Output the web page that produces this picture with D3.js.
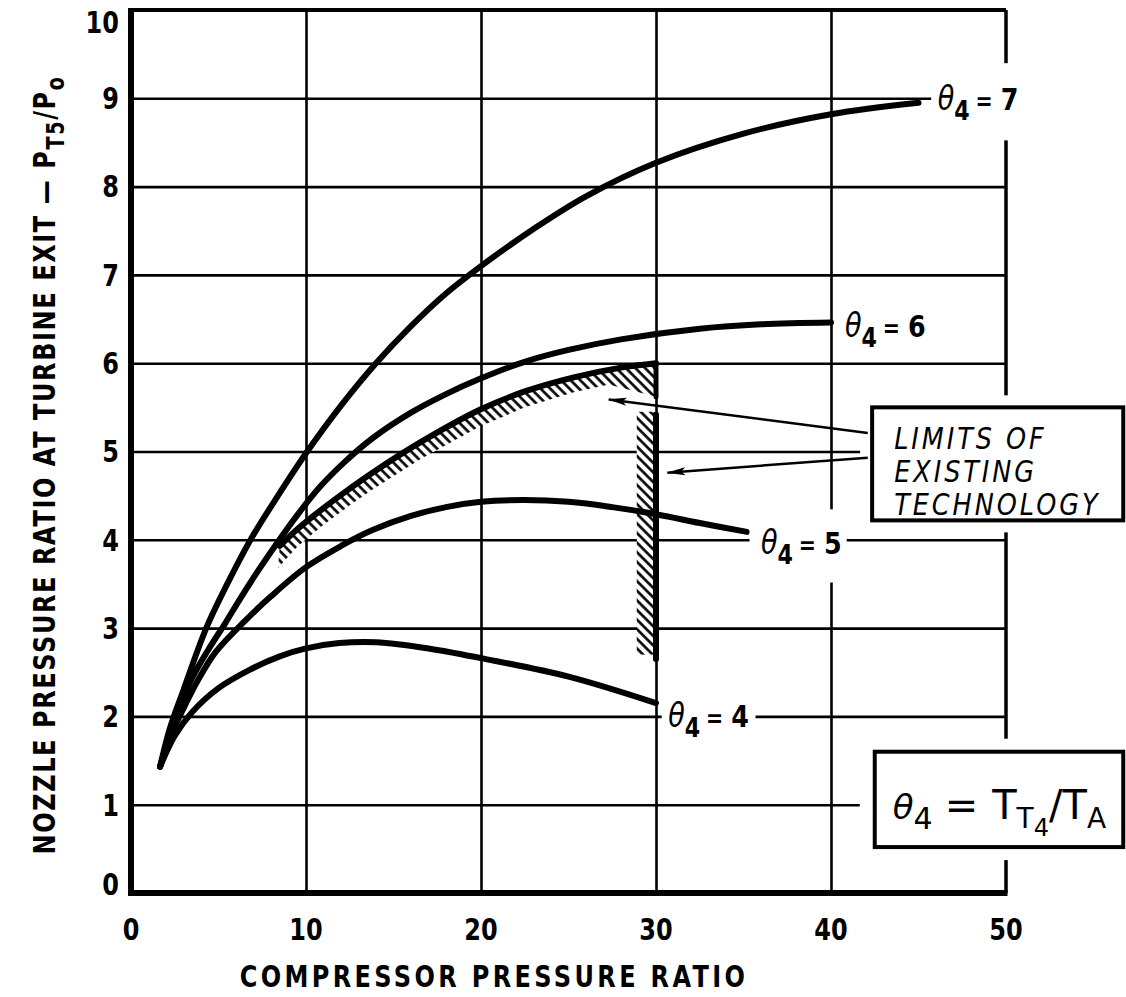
<!DOCTYPE html>
<html>
<head>
<meta charset="utf-8">
<script src="https://cdn.jsdelivr.net/npm/d3@7"></script>
<style>
body { margin: 0; background: #fff; }
text { font-family: "DejaVu Sans", sans-serif; fill: #000; }
</style>
</head>
<body>
<div id="chart-area"></div>
<script>
/*
*    Nozzle pressure ratio vs compressor pressure ratio
*/

// ---- data ----
let xTicks = [0, 10, 20, 30, 40, 50];
let yTicks = [0, 1, 2, 3, 4, 5, 6, 7, 8, 9, 10];

let theta7 = [[1.66,1.43],[2.2,1.85],[3.0,2.3],[4.3,3.0],[5.5,3.5],[6.8,3.99],[8.4,4.5],[10,4.98],
    [12,5.52],[14,6.0],[16,6.42],[18,6.79],[20,7.1],[23,7.52],[26,7.89],[30,8.27],[35,8.6],[40,8.82],[45,8.95]];
let theta6 = [[1.66,1.43],[2.4,1.9],[3.4,2.4],[4.4,2.75],[5.4,3.06],[6.2,3.32],[7.2,3.63],[8.3,3.95],
    [9.5,4.28],[10.8,4.6],[12.2,4.88],[13.8,5.15],[16,5.44],[18,5.65],[19.9,5.82],[22.4,6.01],[25,6.15],
    [28,6.27],[32.5,6.39],[36,6.44],[40,6.46]];
let theta5 = [[1.66,1.43],[2.2,1.75],[2.9,2.05],[3.8,2.4],[4.8,2.72],[6.5,3.08],[8,3.36],[10,3.69],
    [12,3.93],[13.8,4.11],[16,4.27],[18,4.37],[20,4.43],[22.4,4.45],[25,4.43],[27.5,4.37],[30,4.29],
    [32.5,4.19],[35.2,4.09]];
let theta4 = [[1.66,1.43],[2.5,1.78],[3.5,2.05],[5,2.32],[6.8,2.53],[8.5,2.68],[10,2.77],[11.9,2.83],
    [14,2.84],[17,2.77],[20,2.66],[25,2.45],[30,2.15]];

// limits of existing technology
let limitTop = [[8.5,3.93],[9.5,4.12],[11,4.36],[12.5,4.58],[13.8,4.76],[16.5,5.1],[19.9,5.47],
    [22.5,5.68],[25.3,5.84],[28,5.95],[30,6.0]];
let limitBottom = [[8.4,3.68],[9.5,3.92],[11,4.17],[12.5,4.39],[13.8,4.57],[16.5,4.91],[19.9,5.28],
    [22.5,5.5],[25.3,5.67],[27.3,5.76],[30,5.62]];
let wallX = 30;
let wallLow = [2.65, 5.42];
let wallHigh = [5.62, 6.0];
let wallHatchX = [28.9, 30];
let wallHatchY = [2.7, 5.45];

let curveNames = ["7", "6", "5", "4"];

let width = 875,
    height = 883;

let svg = d3.select("#chart-area")
    .append("svg")
    .attr("width", 1126)
    .attr("height", 997);

let defs = svg.append("defs");

let hatch = defs.append("pattern")
    .attr("id", "hatch")
    .attr("patternUnits", "userSpaceOnUse")
    .attr("width", 6.8)
    .attr("height", 6.8)
    .attr("patternTransform", "rotate(-45)");
hatch.append("rect").attr("width", 6.8).attr("height", 6.8).attr("fill", "#fff");
hatch.append("line")
    .attr("x1", 1.5).attr("y1", 0).attr("x2", 1.5).attr("y2", 6.8)
    .attr("stroke", "#000").attr("stroke-width", 2.6);

defs.append("marker")
    .attr("id", "arrow")
    .attr("markerUnits", "userSpaceOnUse")
    .attr("markerWidth", 20)
    .attr("markerHeight", 10)
    .attr("refX", 18)
    .attr("refY", 5)
    .attr("orient", "auto")
    .append("path")
    .attr("d", "M0,1 L19,5 L0,9 L4,5 Z")
    .attr("fill", "#000");

let g = svg.append("g")
    .attr("transform", "translate(131,10)");

// Scales
let x = d3.scaleLinear().domain([0, 50]).range([0, width]);
let y = d3.scaleLinear().domain([0, 10]).range([height, 0]);

// Grid
let xGrid = g.append("g")
    .attr("class", "x grid")
    .call(d3.axisBottom(x).tickValues(xTicks.slice(1, -1)).tickSize(height).tickFormat(""));
xGrid.select(".domain").remove();
xGrid.selectAll("line").attr("stroke", "#000").attr("stroke-width", 2.6);

let yGrid = g.append("g")
    .attr("class", "y grid")
    .call(d3.axisLeft(y).tickValues(yTicks.slice(1, -1)).tickSize(-width).tickFormat(""));
yGrid.select(".domain").remove();
yGrid.selectAll("line").attr("stroke", "#000").attr("stroke-width", 2.6);

// Frame
g.append("line").attr("x1", 0).attr("x2", width).attr("y1", 0).attr("y2", 0)
    .attr("stroke", "#000").attr("stroke-width", 4);
g.append("line").attr("x1", width).attr("x2", width).attr("y1", 0).attr("y2", height)
    .attr("stroke", "#000").attr("stroke-width", 3.5);
g.append("line").attr("x1", -3).attr("x2", width + 1.5).attr("y1", height).attr("y2", height)
    .attr("stroke", "#000").attr("stroke-width", 6);
g.append("line").attr("x1", 0).attr("x2", 0).attr("y1", -2).attr("y2", height + 3)
    .attr("stroke", "#000").attr("stroke-width", 6);

// Tick labels (condensed by a horizontal squeeze)
g.selectAll(".ylab")
    .data(yTicks)
    .enter()
    .append("g")
    .attr("class", "ylab")
    .attr("transform", function(d){
        return "translate(-12," + Math.min(Math.max(y(d), 12), height - 9) + ") scale(0.8,1)";
    })
    .append("text")
    .attr("dy", "0.36em")
    .attr("text-anchor", "end")
    .attr("font-size", "30px")
    .attr("font-weight", "bold")
    .text(function(d){ return d; });

g.selectAll(".xlab")
    .data(xTicks)
    .enter()
    .append("g")
    .attr("class", "xlab")
    .attr("transform", function(d){ return "translate(" + x(d) + "," + (height + 47) + ") scale(0.8,1)"; })
    .append("text")
    .attr("text-anchor", "middle")
    .attr("font-size", "30px")
    .attr("font-weight", "bold")
    .text(function(d){ return d; });

// X Label
svg.append("g")
    .attr("transform", "translate(494,987) scale(0.8,1)")
    .append("text")
    .attr("text-anchor", "middle")
    .attr("font-size", "30px")
    .attr("font-weight", "bold")
    .attr("letter-spacing", "4.2px")
    .text("COMPRESSOR PRESSURE RATIO");

// Y Label
let yTitle = svg.append("g")
    .attr("transform", "translate(55,465) rotate(-90) scale(0.8,1)")
    .append("text")
    .attr("text-anchor", "middle")
    .attr("font-size", "30px")
    .attr("font-weight", "bold")
    .attr("letter-spacing", "2px");
yTitle.append("tspan").text("NOZZLE PRESSURE RATIO AT TURBINE EXIT \u2014 P");
yTitle.append("tspan").attr("dy", 9).attr("font-size", "24px").text("T5");
yTitle.append("tspan").attr("dy", -9).text("/P");
yTitle.append("tspan").attr("dy", 9).attr("font-size", "24px").text("o");

// Hatched limit band
let line = d3.line()
    .x(function(d){ return x(d[0]); })
    .y(function(d){ return y(d[1]); })
    .curve(d3.curveCatmullRom.alpha(0.5));

let bandPts = limitTop.concat(limitBottom.slice().reverse());
g.append("path")
    .attr("d", d3.line().x(function(d){ return x(d[0]); }).y(function(d){ return y(d[1]); })
        .curve(d3.curveLinearClosed)(bandPts))
    .attr("fill", "url(#hatch)");

g.append("rect")
    .attr("x", x(wallHatchX[0]))
    .attr("y", y(wallHatchY[1]))
    .attr("width", x(wallHatchX[1]) - x(wallHatchX[0]))
    .attr("height", y(wallHatchY[0]) - y(wallHatchY[1]))
    .attr("fill", "url(#hatch)");

// Curves
let curves = [theta7, theta6, theta5, theta4];
g.selectAll(".theta-line")
    .data(curves)
    .enter()
    .append("path")
    .attr("class", "theta-line")
    .attr("fill", "none")
    .attr("stroke", "#000")
    .attr("stroke-width", 6)
    .attr("stroke-linecap", "round")
    .attr("d", line);

g.append("path")
    .datum(limitTop)
    .attr("fill", "none")
    .attr("stroke", "#000")
    .attr("stroke-width", 6)
    .attr("stroke-linecap", "round")
    .attr("d", line);

g.append("line")
    .attr("x1", x(wallX)).attr("x2", x(wallX))
    .attr("y1", y(wallLow[0])).attr("y2", y(wallLow[1]))
    .attr("stroke", "#000").attr("stroke-width", 6).attr("stroke-linecap", "round");
g.append("line")
    .attr("x1", x(wallX)).attr("x2", x(wallX))
    .attr("y1", y(wallHigh[0])).attr("y2", y(wallHigh[1]))
    .attr("stroke", "#000").attr("stroke-width", 5).attr("stroke-linecap", "round");

// Curve labels
function thetaLabel(px, py, value, pad) {
    let lg = g.append("g").attr("transform", "translate(" + px + "," + py + ") scale(0.82,1)");
    let t = lg.append("text")
        .attr("font-size", "31px")
        .attr("font-weight", "bold");
    t.append("tspan").attr("font-style", "italic").attr("font-weight", "normal")
        .attr("font-size", "33px").text("\u03b8");
    t.append("tspan").attr("dy", 10).attr("font-size", "27px").text("4");
    t.append("tspan").attr("dy", -10).attr("dx", 7).attr("font-size", "25px").text("=");
    t.append("tspan").attr("dx", 10).text(value);
    let bb = t.node().getBBox();
    lg.insert("rect", function(){ return t.node(); })
        .attr("x", bb.x - pad[0])
        .attr("y", bb.y - pad[1])
        .attr("width", bb.width + pad[0] + pad[2])
        .attr("height", bb.height + pad[1] + pad[3])
        .attr("fill", "#fff");
}

thetaLabel(x(46.1), y(8.87), curveNames[0], [8, 16, 6, 14]);
thetaLabel(x(40.8), y(6.3), curveNames[1], [4, 4, 4, 4]);
thetaLabel(x(36.0), y(3.84), curveNames[2], [14, 14, 6, 12]);
thetaLabel(x(30.7), y(1.88), curveNames[3], [8, 6, 8, 6]);

// Limits box
let box1 = { x0: 42.35, x1: 56.7, y0: 4.22, y1: 5.5 };
g.append("rect")
    .attr("x", x(box1.x0) - 12).attr("y", y(box1.y1) - 12)
    .attr("width", x(box1.x1) - x(box1.x0) + 24).attr("height", y(box1.y0) - y(box1.y1) + 24)
    .attr("fill", "#fff");
g.append("rect")
    .attr("x", x(box1.x0)).attr("y", y(box1.y1))
    .attr("width", x(box1.x1) - x(box1.x0)).attr("height", y(box1.y0) - y(box1.y1))
    .attr("fill", "#fff").attr("stroke", "#000").attr("stroke-width", 4);

let limitText = ["LIMITS OF", "EXISTING", "TECHNOLOGY"];
g.selectAll(".limit-text")
    .data(limitText)
    .enter()
    .append("g")
    .attr("class", "limit-text")
    .attr("transform", function(d, i){
        return "translate(" + (x(box1.x0) + 22) + "," + (y(box1.y1) + 42 + i * 33) + ") scale(0.85,1)";
    })
    .append("text")
    .attr("font-size", "30px")
    .attr("font-style", "italic")
    .attr("letter-spacing", "3.5px")
    .text(function(d){ return d; });

// Arrows
let arrows = [
    [[42.1, 5.21], [27.3, 5.59]],
    [[42.1, 4.93], [30.65, 4.76]]
];
g.selectAll(".arrow")
    .data(arrows)
    .enter()
    .append("line")
    .attr("class", "arrow")
    .attr("x1", function(d){ return x(d[0][0]); })
    .attr("y1", function(d){ return y(d[0][1]); })
    .attr("x2", function(d){ return x(d[1][0]); })
    .attr("y2", function(d){ return y(d[1][1]); })
    .attr("stroke", "#000")
    .attr("stroke-width", 2.5)
    .attr("marker-end", "url(#arrow)");

// Definition box
let box2 = { x0: 42.5, x1: 56.7, y0: 0.52, y1: 1.6 };
g.append("rect")
    .attr("x", x(box2.x0) - 15).attr("y", y(box2.y1) - 13)
    .attr("width", x(box2.x1) - x(box2.x0) + 30).attr("height", y(box2.y0) - y(box2.y1) + 26)
    .attr("fill", "#fff");
g.append("rect")
    .attr("x", x(box2.x0)).attr("y", y(box2.y1))
    .attr("width", x(box2.x1) - x(box2.x0)).attr("height", y(box2.y0) - y(box2.y1))
    .attr("fill", "#fff").attr("stroke", "#000").attr("stroke-width", 4);

let def = g.append("text")
    .attr("x", x(box2.x0) + 18)
    .attr("y", y(box2.y1) + 67)
    .attr("font-family", "Liberation Sans, Arial, sans-serif")
    .attr("font-size", "40px");
def.append("tspan").attr("font-style", "italic").attr("font-family", "DejaVu Sans").attr("font-size", "34px").text("\u03b8");
def.append("tspan").attr("dy", 10).attr("font-size", "30px").text("4");
def.append("tspan").attr("dy", -10).attr("dx", 12).text("=");
def.append("tspan").attr("dx", 14).text("T");
def.append("tspan").attr("dy", 9).attr("font-size", "28px").text("T");
def.append("tspan").attr("dy", 8).attr("font-size", "24px").text("4");
def.append("tspan").attr("dy", -17).text("/T");
def.append("tspan").attr("dy", 9).attr("font-size", "28px").text("A");
</script>
</body>
</html>
